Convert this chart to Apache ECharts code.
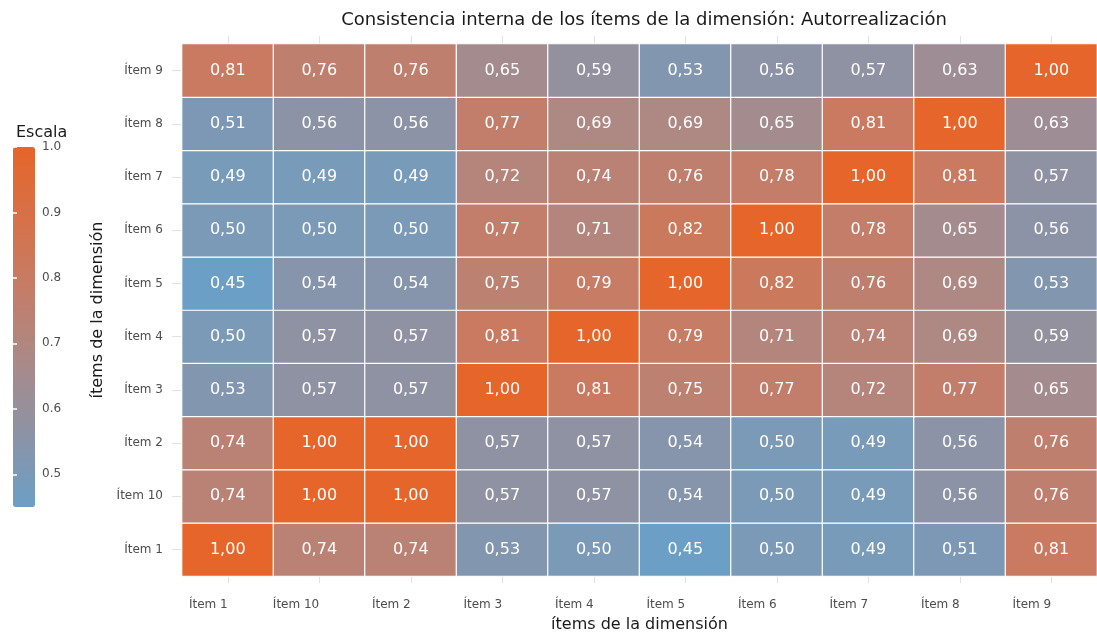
<!DOCTYPE html>
<html>
<head>
<meta charset="utf-8">
<script src="https://cdn.jsdelivr.net/npm/echarts@6/dist/echarts.min.js"></script>
<style>
  html, body { margin: 0; padding: 0; background: #fff; }
  #char { width: 1097px; height: 638px; }
</style>
</head>
<body>
<div id="char"></div>
<script>
// categories, same order on both axes (y goes bottom -> top)
var items = ["Ítem 1", "Ítem 10", "Ítem 2", "Ítem 3", "Ítem 4", "Ítem 5", "Ítem 6", "Ítem 7", "Ítem 8", "Ítem 9"];

// one row per y category, values follow the x order above
var filaItem1  = [1.00, 0.74, 0.74, 0.53, 0.50, 0.45, 0.50, 0.49, 0.51, 0.81];
var filaItem10 = [0.74, 1.00, 1.00, 0.57, 0.57, 0.54, 0.50, 0.49, 0.56, 0.76];
var filaItem2  = [0.74, 1.00, 1.00, 0.57, 0.57, 0.54, 0.50, 0.49, 0.56, 0.76];
var filaItem3  = [0.53, 0.57, 0.57, 1.00, 0.81, 0.75, 0.77, 0.72, 0.77, 0.65];
var filaItem4  = [0.50, 0.57, 0.57, 0.81, 1.00, 0.79, 0.71, 0.74, 0.69, 0.59];
var filaItem5  = [0.45, 0.54, 0.54, 0.75, 0.79, 1.00, 0.82, 0.76, 0.69, 0.53];
var filaItem6  = [0.50, 0.50, 0.50, 0.77, 0.71, 0.82, 1.00, 0.78, 0.65, 0.56];
var filaItem7  = [0.49, 0.49, 0.49, 0.72, 0.74, 0.76, 0.78, 1.00, 0.81, 0.57];
var filaItem8  = [0.51, 0.56, 0.56, 0.77, 0.69, 0.69, 0.65, 0.81, 1.00, 0.63];
var filaItem9  = [0.81, 0.76, 0.76, 0.65, 0.59, 0.53, 0.56, 0.57, 0.63, 1.00];

var filas = [filaItem1, filaItem10, filaItem2, filaItem3, filaItem4, filaItem5, filaItem6, filaItem7, filaItem8, filaItem9];

// legend ticks
var escalaTicks = [0.5, 0.6, 0.7, 0.8, 0.9, 1.0];

var datos = [];
for (var y = 0; y < filas.length; y++) {
  for (var x = 0; x < filas[y].length; x++) {
    datos.push([x, y, filas[y][x]]);
  }
}

var myChart = echarts.init(document.getElementById("char"));
var fuente = "DejaVu Sans";
var grisLabel = "#4d4d4d";
var grisTick = "#e2e2e2";

var option = {
  backgroundColor: "#fff",
  animation: false,
  title: [
    {
      text: "Consistencia interna de los ítems de la dimensión: Autorrealización",
      left: 639,
      top: 6,
      textAlign: "center",
      textStyle: { fontFamily: fuente, fontSize: 18, fontWeight: "normal", color: "#1a1a1a" }
    },
    {
      text: "Escala",
      left: 11,
      top: 120,
      textStyle: { fontFamily: fuente, fontSize: 16, fontWeight: "normal", color: "#1a1a1a" }
    }
  ],
  grid: [
    { left: 182, right: 0, top: 44, bottom: 54 },
    // only used to draw the legend ticks / labels
    { left: 13, top: 147, width: 22, height: 360 }
  ],
  xAxis: [
    {
      type: "category",
      data: items,
      gridIndex: 0,
      name: "ítems de la dimensión",
      nameLocation: "middle",
      nameGap: 41,
      nameTextStyle: { fontFamily: fuente, fontSize: 16, color: "#1a1a1a" },
      axisLine: { show: false },
      axisTick: { show: true, alignWithLabel: true, length: 7, lineStyle: { color: grisTick } },
      axisLabel: { color: grisLabel, fontSize: 12, fontFamily: fuente, align: "right", margin: 23 },
      splitLine: { show: false }
    },
    {
      type: "category",
      data: items,
      gridIndex: 0,
      position: "top",
      axisLine: { show: false },
      axisTick: { show: true, alignWithLabel: true, length: 8, lineStyle: { color: grisTick } },
      axisLabel: { show: false }
    },
    {
      type: "value",
      gridIndex: 1,
      show: false
    }
  ],
  yAxis: [
    {
      type: "category",
      data: items,
      gridIndex: 0,
      name: "ítems de la dimensión",
      nameLocation: "middle",
      nameGap: 58,
      nameRotate: 90,
      nameTextStyle: { fontFamily: fuente, fontSize: 16, color: "#1a1a1a" },
      axisLine: { show: false },
      axisTick: { show: true, alignWithLabel: true, length: 10, lineStyle: { color: grisTick } },
      axisLabel: { color: grisLabel, fontSize: 12, fontFamily: fuente, margin: 19 },
      splitLine: { show: false }
    },
    {
      type: "value",
      gridIndex: 1,
      position: "right",
      min: 0.45,
      max: 1.0,
      axisLine: { show: false },
      axisTick: { show: true, inside: true, length: 4, customValues: escalaTicks, lineStyle: { color: "#fff", width: 1.5 } },
      axisLabel: {
        color: grisLabel, fontSize: 12, fontFamily: fuente, margin: 7,
        customValues: escalaTicks,
        formatter: function (v) { return v.toFixed(1); }
      },
      splitLine: { show: false },
      z: 10
    },
    {
      type: "value",
      gridIndex: 1,
      position: "left",
      min: 0.45,
      max: 1.0,
      axisLine: { show: false },
      axisTick: { show: true, inside: true, length: 4, customValues: escalaTicks, lineStyle: { color: "#fff", width: 1.5 } },
      axisLabel: { show: false },
      splitLine: { show: false },
      z: 10
    }
  ],
  visualMap: {
    type: "continuous",
    min: 0.45,
    max: 1.0,
    seriesIndex: 0,
    calculable: false,
    realtime: false,
    left: 13,
    top: 147,
    padding: 0,
    itemWidth: 22,
    itemHeight: 360,
    showLabel: false,
    text: null,
    inRange: {
      color: ["#6c9fc6", "#8c93a6", "#a98a89", "#c47d68", "#d6714a", "#e5652a"]
    }
  },
  series: [
    {
      name: "Escala",
      type: "heatmap",
      xAxisIndex: 0,
      yAxisIndex: 0,
      data: datos,
      label: {
        show: true,
        color: "#fff",
        fontSize: 16,
        fontFamily: fuente,
        formatter: function (p) { return p.value[2].toFixed(2).replace(".", ","); }
      },
      itemStyle: { borderColor: "#fff", borderWidth: 1.2 },
      emphasis: { disabled: true }
    }
  ]
};

myChart.setOption(option);
</script>
</body>
</html>
